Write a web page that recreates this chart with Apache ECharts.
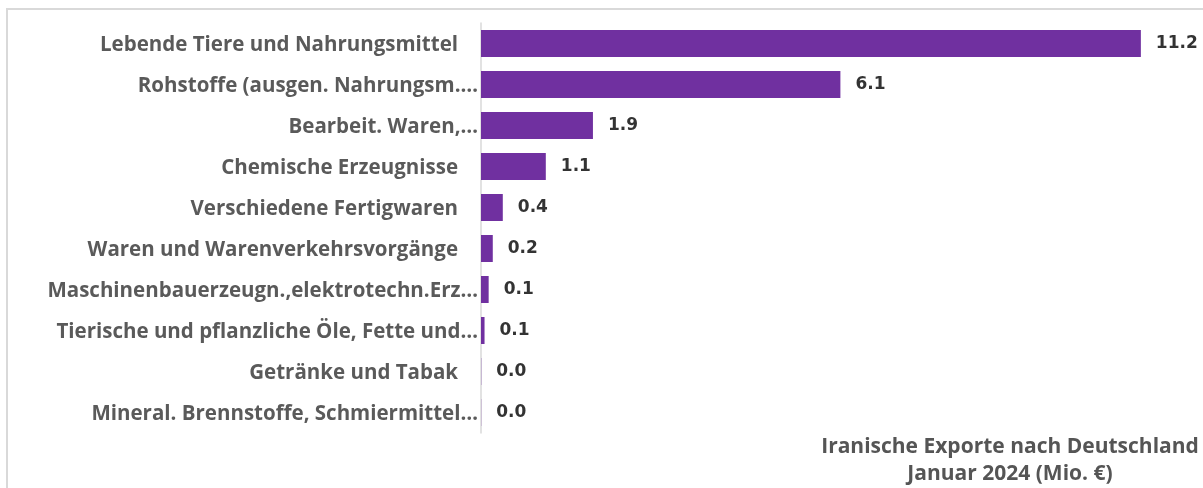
<!DOCTYPE html>
<html><head><meta charset="utf-8">
<script src="https://cdn.jsdelivr.net/npm/echarts@6/dist/echarts.min.js"></script>
<style>html,body{margin:0;padding:0;background:#fff}#c{width:1203px;height:488px}</style>
</head><body><div id="c"></div>
<script>
const categories = [
  "Lebende Tiere und Nahrungsmittel",
  "Rohstoffe (ausgen. Nahrungsm.…",
  "Bearbeit. Waren,…",
  "Chemische Erzeugnisse",
  "Verschiedene Fertigwaren",
  "Waren und Warenverkehrsvorgänge",
  "Maschinenbauerzeugn.,elektrotechn.Erz…",
  "Tierische und pflanzliche Öle, Fette und…",
  "Getränke und Tabak",
  "Mineral. Brennstoffe, Schmiermittel…"
];
const values = [11.2, 6.1, 1.9, 1.1, 0.37, 0.2, 0.13, 0.06, 0.004, 0.003];
const titleLines = ["Iranische Exporte nach Deutschland", "Januar 2024 (Mio. €)"];

const F = 'Open Sans';
const chart = echarts.init(document.getElementById('c'));
chart.setOption({
  animation: false,
  title: {
    text: titleLines.join('\n'),
    left: 1010, top: 434, textAlign: 'center', padding: 0,
    textStyle: {fontFamily: F, fontWeight: 700, fontSize: 21, color: '#555555', lineHeight: 27, align: 'center'}
  },
  grid: {left: 481, right: 15, top: 23, bottom: 55, containLabel: false},
  xAxis: {type: 'value', min: 0, max: 12, show: false},
  yAxis: {
    type: 'category', inverse: true, data: categories,
    axisLine: {show: true, lineStyle: {color: '#d9d9d9', width: 1.5}},
    axisTick: {show: false},
    axisLabel: {
      margin: 3,
      formatter: function (v) {
        return v.endsWith('…') ? '{b|' + v + '}' : '{a|' + v + '}';
      },
      rich: {
        a: {fontFamily: F, fontSize: 20.5, color: '#5a5a5a', fontWeight: 'bold', padding: [4, 20, 0, 0]},
        b: {fontFamily: F, fontSize: 20.5, color: '#5a5a5a', fontWeight: 'bold', padding: [4, 0, 0, 0]}
      }
    }
  },
  series: [{
    type: 'bar', data: values, barCategoryGap: '34%',
    itemStyle: {color: '#7030a0'},
    label: {
      show: true, position: 'right', distance: 15,
      fontFamily: 'DejaVu Sans', fontWeight: 'bold', fontSize: 17, color: '#333333',
      padding: [4, 0, 0, 0],
      formatter: p => p.value.toFixed(1)
    }
  }],
  graphic: [
    {type: 'rect', shape: {x: 7, y: 9, width: 1400, height: 700}, style: {fill: 'none', stroke: '#d9d9d9', lineWidth: 2}, silent: true, z: -1}
  ]
});
</script></body></html>
